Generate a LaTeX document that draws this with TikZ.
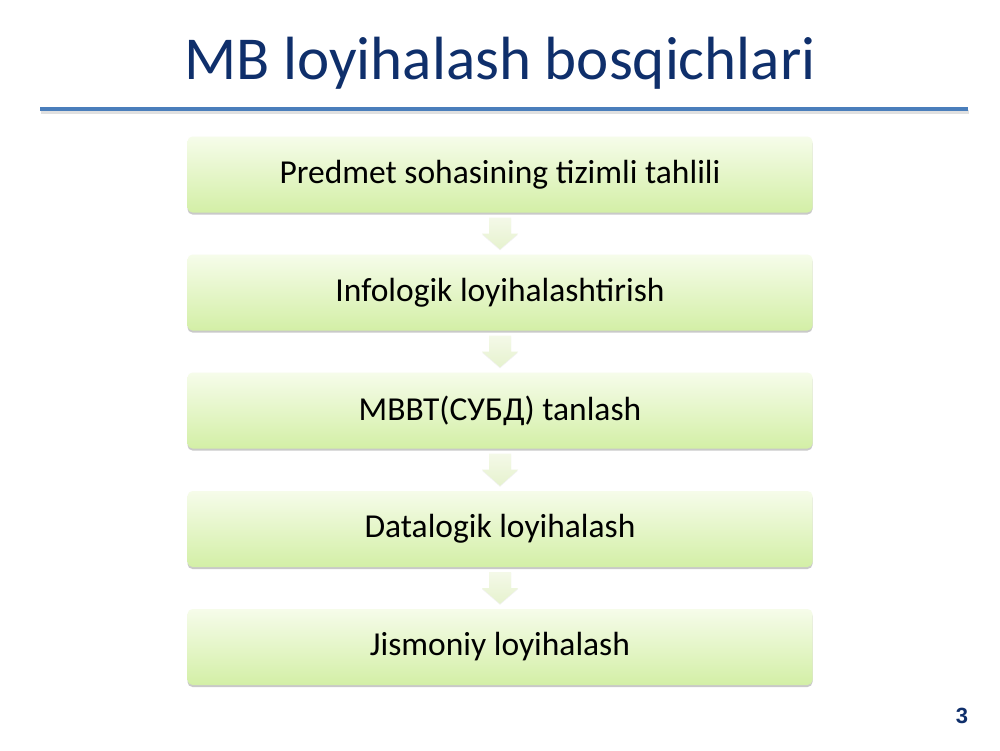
\documentclass[tikz,border=0pt]{standalone}
\usepackage{fontspec}
\setmainfont{Carlito}
\newfontfamily\numfont{Liberation Sans}
\usetikzlibrary{calc,shadows}
\definecolor{titleblue}{HTML}{0F2F6B}
\definecolor{rulecol}{HTML}{4A7EBB}
\definecolor{boxtop}{HTML}{F6FCEA}
\definecolor{boxbot}{HTML}{D3EFA6}
\definecolor{arrtop}{HTML}{F4F9E8}
\definecolor{arrbot}{HTML}{E6F2CE}
\tikzset{
  stepbox/.style={rounded corners=5pt, minimum width=625pt, minimum height=76pt,
    top color=boxtop, bottom color=boxbot, draw=none,
    drop shadow={opacity=0.35, shadow xshift=0pt, shadow yshift=-2pt, fill=black!60},
    font=\fontsize{33.5}{39}\selectfont, text=black},
  flowarrow/.style={top color=arrtop, bottom color=arrbot, draw=none,
    drop shadow={opacity=0.1, shadow xshift=0pt, shadow yshift=-1pt}},
}
\begin{document}
\begin{tikzpicture}[x=1pt,y=-1pt]
\useasboundingbox[fill=white] (0,0) rectangle (1000,750);
% title
\node[text=titleblue, font=\fontsize{61}{70}\selectfont, anchor=center] (title) at (500,63) {MB loyihalash bosqichlari};
% rule
\coordinate (rl) at (40,109);
\coordinate (rr) at (968,109);
\draw[black!12, line width=4pt] ($(rl)+(1,3)$) -- ($(rr)+(1,3)$);
\draw[rulecol, line width=4pt] (rl) -- (rr);
% boxes
\node[stepbox] (b1) at (500,174.5) {Predmet sohasining tizimli tahlili};
\node[stepbox] (b2) at (500,292.5) {Infologik loyihalashtirish};
\node[stepbox] (b3) at (500,410.5) {MBBT(СУБД) tanlash};
\node[stepbox] (b4) at (500,529) {Datalogik loyihalash};
\node[stepbox] (b5) at (500,647) {Jismoniy loyihalash};
% arrows
\foreach \a/\b in {b1/b2,b2/b3,b3/b4,b4/b5}{
  \path[flowarrow] ($(\a.south)+(-11,5)$) -- ($(\a.south)+(11,5)$) -- ($(\a.south)+(11,21)$)
    -- ($(\a.south)+(18,21)$) -- ($(\b.north)+(0,-5)$) -- ($(\a.south)+(-18,21)$)
    -- ($(\a.south)+(-11,21)$) -- cycle;
}
% page number
\node[text=titleblue, font=\numfont\bfseries\fontsize{22}{24}\selectfont] (pnum) at (962,716) {3};
\end{tikzpicture}
\end{document}
